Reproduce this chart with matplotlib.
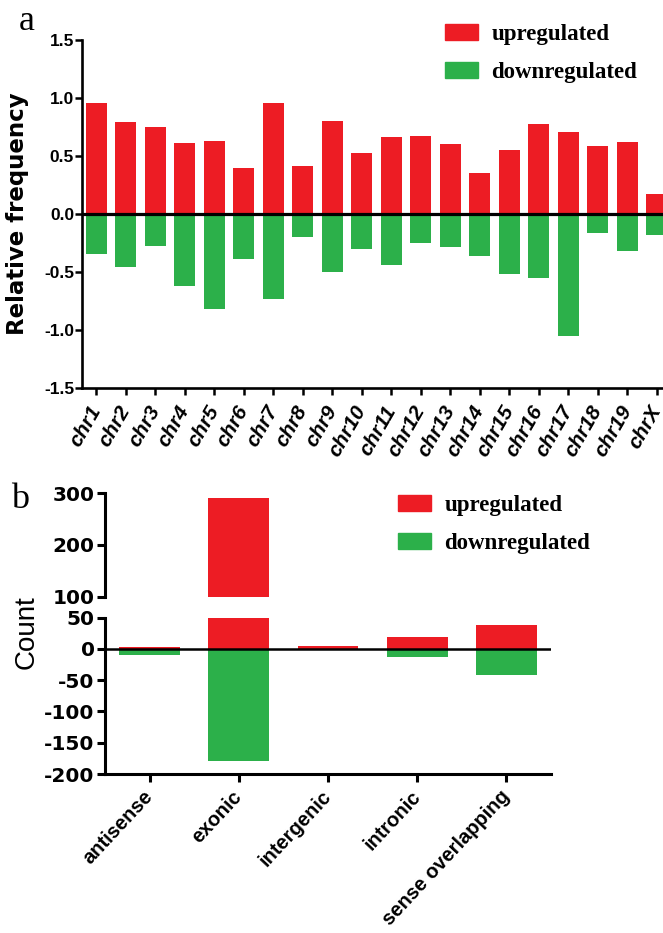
import numpy as np
import matplotlib
matplotlib.use("Agg")
import matplotlib.pyplot as plt
from matplotlib.patches import Patch
from matplotlib.ticker import FixedLocator

plt.rcParams["axes.unicode_minus"] = False
plt.rcParams["font.family"] = ["Liberation Sans", "DejaVu Sans"]

# panel a: relative frequency per chromosome
chroms = ["chr1", "chr2", "chr3", "chr4", "chr5", "chr6", "chr7", "chr8", "chr9", "chr10",
          "chr11", "chr12", "chr13", "chr14", "chr15", "chr16", "chr17", "chr18", "chr19", "chrX"]
up_a = [0.95, 0.79, 0.75, 0.61, 0.63, 0.39, 0.95, 0.41, 0.80, 0.52,
        0.66, 0.67, 0.60, 0.35, 0.55, 0.77, 0.70, 0.58, 0.62, 0.17]
down_a = [-0.35, -0.46, -0.28, -0.62, -0.82, -0.39, -0.73, -0.20, -0.50, -0.30,
          -0.44, -0.25, -0.29, -0.36, -0.52, -0.55, -1.05, -0.17, -0.32, -0.18]

# panel b: counts per genomic category
types = ["antisense", "exonic", "intergenic", "intronic", "sense overlapping"]
up_b = [3, 290, 5, 19, 39]
down_b = [-9, -179, 0, -13, -42]

red = "#ED1C24"
green = "#2CB04A"
W, H = 663, 933

fig = plt.figure(figsize=(W / 100, H / 100), dpi=100)


def px_rect(x0, y0, x1, y1):
    # pixel box (top-left origin) -> figure fraction rect
    return [x0 / W, 1 - y1 / H, (x1 - x0) / W, (y1 - y0) / H]


# ---------------- panel a ----------------
axa = fig.add_axes(px_rect(81.7, 39.5, 81.7 + 20 * 29.48, 388))
xa = np.arange(len(chroms))
axa.bar(xa, up_a, width=0.71, color=red, zorder=2)
axa.bar(xa, down_a, width=0.71, color=green, zorder=2)
axa.axhline(0, color="black", lw=2.3, zorder=3)
axa.set_xlim(-0.5, 19.5)
axa.set_ylim(-1.5, 1.5)
axa.set_yticks([-1.5, -1.0, -0.5, 0.0, 0.5, 1.0, 1.5])
axa.set_yticklabels(["%.1f" % v for v in axa.get_yticks()])
axa.set_xticks(xa)
axa.set_xticklabels(chroms, rotation=60, ha="right", va="center",
                    rotation_mode="anchor", fontsize=15, fontweight="bold", fontstyle="italic")
for s in ["top", "right"]:
    axa.spines[s].set_visible(False)
for s in ["left", "bottom"]:
    axa.spines[s].set_linewidth(1.9)
axa.tick_params(axis="y", length=5, width=1.8, pad=0.5, labelsize=12.5)
axa.tick_params(axis="x", length=5, width=1.8, pad=9)
for lab in axa.get_yticklabels():
    lab.set_fontweight("bold")
axa.set_ylabel("Relative frequency", fontsize=16.5, fontweight="bold", family="DejaVu Sans")
axa.yaxis.set_label_coords(-0.09, 0.5)

handles = [Patch(color=red, label="upregulated"), Patch(color=green, label="downregulated")]
fig.legend(handles=handles, loc="upper left", bbox_to_anchor=(424 / W, 1 - 3 / H),
           frameon=False, prop={"family": "Liberation Serif", "weight": "bold", "size": 16.5},
           handlelength=1.45, handleheight=0.75, labelspacing=0.72, handletextpad=0.6)
fig.text(27 / W, 1 - 22 / H, "a", family="Liberation Serif", fontsize=26, ha="center", va="center")

# ---------------- panel b (broken axis) ----------------
xb = np.arange(len(types))
ax_hi = fig.add_axes(px_rect(105, 493.3, 551, 596.7))
ax_lo = fig.add_axes(px_rect(105, 617.7, 551, 774))
for ax in (ax_hi, ax_lo):
    ax.bar(xb, up_b, width=0.68, color=red, zorder=2)
    ax.bar(xb, down_b, width=0.68, color=green, zorder=2)
    ax.set_xlim(-0.5, 4.5)
    ax.spines["top"].set_visible(False)
    ax.spines["right"].set_visible(False)
    ax.spines["left"].set_linewidth(2.2)
    ax.tick_params(axis="y", length=6, width=2.2, pad=1.5, labelsize=14.5)

ax_hi.set_ylim(100, 300)
ax_hi.set_yticks([100, 200, 300])
ax_hi.spines["bottom"].set_visible(False)
ax_hi.set_xticks([])
ax_hi.yaxis.set_minor_locator(FixedLocator([100]))
ax_hi.tick_params(axis="y", which="minor", direction="in", length=6, width=2.2)

ax_lo.set_ylim(-200, 50)
ax_lo.set_yticks([-200, -150, -100, -50, 0, 50])
ax_lo.yaxis.set_minor_locator(FixedLocator([50]))
ax_lo.tick_params(axis="y", which="minor", direction="in", length=6, width=2.2)
ax_lo.spines["bottom"].set_linewidth(2.2)
ax_lo.axhline(0, color="black", lw=1.8, zorder=3)
ax_lo.set_xticks(xb)
ax_lo.set_xticklabels(types, rotation=47, ha="right", va="center", rotation_mode="anchor",
                      fontsize=14.5, fontweight="bold")
ax_lo.tick_params(axis="x", length=6, width=2.2, pad=8)
for lab in ax_lo.get_yticklabels() + ax_hi.get_yticklabels():
    lab.set_fontweight("bold")
    lab.set_family("DejaVu Sans")

fig.text(27 / W, 1 - 632 / H, "Count", fontsize=20, rotation=90, ha="center", va="center")
fig.legend(handles=handles, loc="upper left", bbox_to_anchor=(377 / W, 1 - 474 / H),
           frameon=False, prop={"family": "Liberation Serif", "weight": "bold", "size": 16.5},
           handlelength=1.45, handleheight=0.75, labelspacing=0.72, handletextpad=0.6)
fig.text(20 / W, 1 - 500 / H, "b", family="Liberation Serif", fontsize=26, ha="center", va="center")

fig.savefig("out.png", dpi=100)
